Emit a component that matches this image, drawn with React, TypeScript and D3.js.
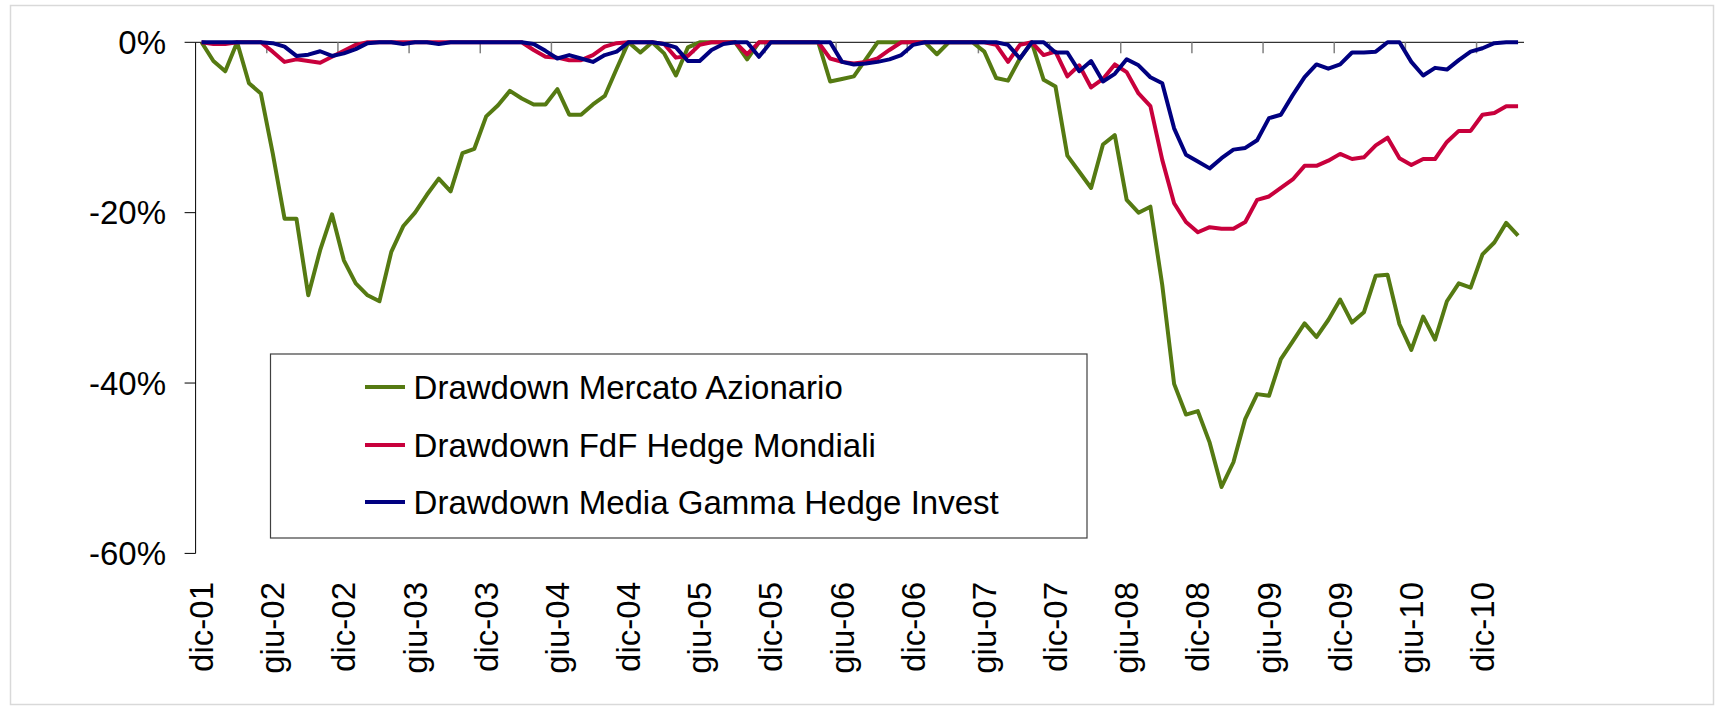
import React from 'react';
import * as d3 from 'd3';

const tickLabels = [
  'dic-01', 'giu-02', 'dic-02', 'giu-03', 'dic-03', 'giu-04', 'dic-04', 'giu-05', 'dic-05', 'giu-06',
  'dic-06', 'giu-07', 'dic-07', 'giu-08', 'dic-08', 'giu-09', 'dic-09', 'giu-10', 'dic-10',
];
const labelEvery = 6;

const mercatoAzionario = [
  0, -2.2, -3.4, 0, -4.8, -6.0, -13.0, -20.7, -20.7, -29.7,
  -24.4, -20.2, -25.6, -28.3, -29.7, -30.4, -24.6, -21.6, -20.0, -17.9,
  -16.0, -17.5, -13.0, -12.5, -8.7, -7.4, -5.7, -6.6, -7.3, -7.3,
  -5.5, -8.5, -8.5, -7.3, -6.3, -3.1, 0, -1.2, 0, -1.3,
  -3.9, -0.6, 0, 0, 0, 0, -2.0, 0, 0, 0,
  0, 0, 0, -4.6, -4.3, -4.0, -2.0, 0, 0, 0,
  0, 0, -1.4, 0, 0, 0, -1.1, -4.2, -4.5, -1.9,
  0, -4.4, -5.2, -13.3, -15.2, -17.1, -12.0, -10.9, -18.5, -20.0,
  -19.3, -28.5, -40.1, -43.7, -43.3, -47.0, -52.2, -49.3, -44.2, -41.3,
  -41.5, -37.2, -35.1, -33.0, -34.6, -32.6, -30.2, -32.9, -31.7, -27.4,
  -27.3, -33.1, -36.1, -32.2, -34.9, -30.4, -28.3, -28.8, -24.9, -23.5,
  -21.2, -22.7,
];

const fdfHedgeMondiali = [
  0, -0.2, -0.2, 0, 0, 0, -1.1, -2.3, -2.0, -2.2,
  -2.4, -1.7, -1.0, -0.3, 0, 0, 0, 0, 0, 0,
  0, 0, 0, 0, 0, 0, 0, 0, -0.9, -1.7,
  -1.8, -2.1, -2.1, -1.5, -0.5, -0.1, 0, 0, 0, -0.2,
  -1.8, -1.6, -0.3, 0, 0, 0, -1.4, 0, 0, 0,
  0, 0, 0, -1.9, -2.3, -2.5, -2.3, -1.9, -0.9, 0,
  0, 0, 0, 0, 0, 0, 0, -0.3, -2.3, -0.3,
  0, -1.5, -1.1, -4.0, -2.7, -5.3, -4.3, -2.6, -3.5, -6.0,
  -7.5, -13.8, -18.9, -21.1, -22.3, -21.7, -21.9, -21.9, -21.1, -18.5,
  -18.1, -17.1, -16.1, -14.5, -14.5, -13.9, -13.1, -13.7, -13.5, -12.1,
  -11.2, -13.6, -14.4, -13.7, -13.7, -11.7, -10.4, -10.4, -8.5, -8.3,
  -7.5, -7.5,
];

const mediaGammaHedgeInvest = [
  0, 0, 0, 0, 0, 0, -0.1, -0.5, -1.6, -1.45,
  -1.05, -1.6, -1.3, -0.8, -0.1, 0, 0, -0.2, 0, 0,
  -0.2, 0, 0, 0, 0, 0, 0, 0, -0.2, -1.0,
  -1.9, -1.5, -1.9, -2.3, -1.5, -1.1, 0, 0, 0, -0.2,
  -0.6, -2.2, -2.2, -0.9, -0.2, 0, 0, -1.7, 0, 0,
  0, 0, 0, 0, -2.3, -2.6, -2.5, -2.3, -2.0, -1.5,
  -0.3, 0, 0, 0, 0, 0, 0, 0, -0.3, -1.9,
  0, 0, -1.2, -1.2, -3.4, -2.2, -4.6, -3.7, -2.0, -2.7,
  -4.1, -4.8, -10.1, -13.2, -14.0, -14.8, -13.6, -12.6, -12.4, -11.5,
  -8.9, -8.5, -6.2, -4.1, -2.6, -3.1, -2.6, -1.2, -1.2, -1.1,
  0, 0, -2.3, -3.9, -3.0, -3.2, -2.1, -1.1, -0.7, -0.1,
  0, 0,
];

const yTicks = [0, -20, -40, -60];

const seriesNames = [
  'Drawdown Mercato Azionario',
  'Drawdown FdF Hedge Mondiali',
  'Drawdown Media Gamma Hedge Invest',
];
const seriesColors = ['#557A12', '#C8003C', '#000080'];
const seriesData = [mercatoAzionario, fdfHedgeMondiali, mediaGammaHedgeInvest];

const W = 1724;
const H = 711;
const plotLeft = 195.6;
const plotRight = 1524;
const plotTop = 42.3;
const plotBottom = 553.4;
const FONT = '"Liberation Sans", Arial, Helvetica, sans-serif';

export default function App() {
  const n = mercatoAzionario.length;
  const x = d3.scaleBand<number>().domain(d3.range(n)).range([plotLeft, plotRight]).padding(0);
  const bw = x.bandwidth();
  const cx = (i: number) => (x(i) as number) + bw / 2;
  const y = d3.scaleLinear().domain([0, -60]).range([plotTop, plotBottom]);

  const line = d3
    .line<number>()
    .x((_, i) => cx(i))
    .y((d) => y(d));

  const tickIdx = d3.range(labelEvery, n, labelEvery);

  const legendX = 270.5;
  const legendY = 354;
  const legendW = 816.5;
  const legendH = 184;
  const legendRows = [387, 445, 502];

  return (
    <svg
      width={W}
      height={H}
      style={{ position: 'absolute', left: 0, top: 0, background: '#fff' }}
      fontFamily={FONT}
    >
      <rect x={10.5} y={5.5} width={1703} height={699} fill="#fff" stroke="#d9d9d9" strokeWidth={1.5} />

      {/* y axis */}
      <line x1={plotLeft} y1={plotTop} x2={plotLeft} y2={plotBottom} stroke="#000" strokeWidth={1} />
      {yTicks.map((t) => (
        <g key={t}>
          <line x1={plotLeft - 11} x2={plotLeft} y1={y(t)} y2={y(t)} stroke="#000" strokeWidth={1} />
          <text x={166} y={y(t)} dy="0.35em" textAnchor="end" fontSize={33} fill="#000">
            {`${t}%`}
          </text>
        </g>
      ))}

      {/* category axis at 0% */}
      <line x1={plotLeft} y1={y(0)} x2={plotRight} y2={y(0)} stroke="#000" strokeWidth={1} />
      {tickIdx.map((i) => (
        <line
          key={i}
          x1={x(i) as number}
          x2={x(i) as number}
          y1={y(0)}
          y2={y(0) + 11}
          stroke="#808080"
          strokeWidth={1.5}
        />
      ))}

      {/* category labels */}
      {tickLabels.map((lab, k) => {
        const px = cx(k * labelEvery);
        const py = 582;
        return (
          <text
            key={lab}
            transform={`translate(${px},${py}) rotate(-90)`}
            dy="0.35em"
            textAnchor="end"
            fontSize={33}
            fill="#000"
          >
            {lab}
          </text>
        );
      })}

      {/* series */}
      {seriesData.map((d, s) => (
        <path
          key={s}
          d={line(d) as string}
          fill="none"
          stroke={seriesColors[s]}
          strokeWidth={4}
          strokeLinejoin="round"
          strokeLinecap="butt"
        />
      ))}

      {/* legend */}
      <rect x={legendX} y={legendY} width={legendW} height={legendH} fill="#fff" stroke="#404040" strokeWidth={1.2} />
      {seriesNames.map((name, s) => (
        <g key={name}>
          <line x1={365} x2={405} y1={legendRows[s]} y2={legendRows[s]} stroke={seriesColors[s]} strokeWidth={4} />
          <text x={413.6} y={legendRows[s]} dy="0.35em" fontSize={33} fill="#000">
            {name}
          </text>
        </g>
      ))}
    </svg>
  );
}
